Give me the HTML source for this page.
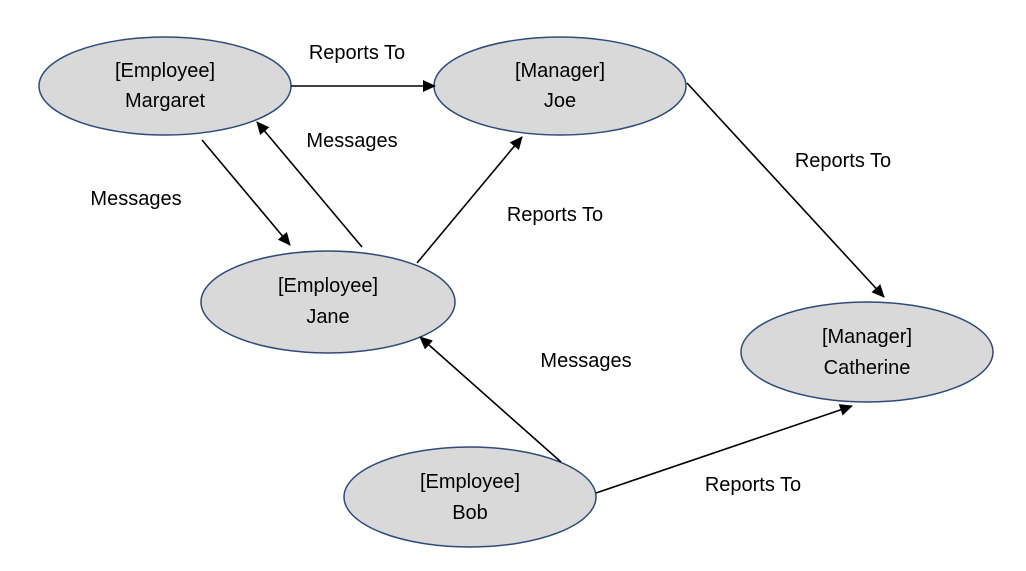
<!DOCTYPE html>
<html><head><style>
body{margin:0;background:#fff;}
svg text{font-family:"Liberation Sans",sans-serif;font-size:20px;fill:#000;}
</style></head><body>
<svg width="1026" height="566" viewBox="0 0 1026 566">
<defs><marker id="a" markerWidth="13" markerHeight="12" refX="12" refY="6" orient="auto" markerUnits="userSpaceOnUse"><path d="M0,0 L13,6 L0,12 z" fill="#000"/></marker></defs>
<g fill="#d9d9d9" stroke="#2f4a7a" stroke-width="1.5">
<ellipse cx="165" cy="86" rx="126" ry="49"/>
<ellipse cx="560" cy="86" rx="126" ry="49"/>
<ellipse cx="328" cy="302" rx="127" ry="51"/>
<ellipse cx="867" cy="352" rx="126" ry="50"/>
<ellipse cx="470" cy="497" rx="126" ry="50"/>
</g>
<g stroke="#000" stroke-width="1.6" marker-end="url(#a)">
<line x1="291" y1="86" x2="435" y2="86"/>
<line x1="202" y1="140" x2="290" y2="245"/>
<line x1="362" y1="247" x2="257" y2="122"/>
<line x1="417" y1="263" x2="522" y2="137"/>
<line x1="687" y1="83" x2="884" y2="297"/>
<line x1="561" y1="462" x2="420" y2="337"/>
<line x1="596" y1="493" x2="852" y2="406"/>
</g>
<g text-anchor="middle">
<text x="165" y="77">[Employee]</text><text x="165" y="107">Margaret</text>
<text x="560" y="77">[Manager]</text><text x="560" y="107">Joe</text>
<text x="328" y="292">[Employee]</text><text x="328" y="323">Jane</text>
<text x="867" y="343">[Manager]</text><text x="867" y="374">Catherine</text>
<text x="470" y="488">[Employee]</text><text x="470" y="519">Bob</text>
<text x="357" y="59">Reports To</text>
<text x="352" y="147">Messages</text>
<text x="136" y="205">Messages</text>
<text x="555" y="221">Reports To</text>
<text x="843" y="167">Reports To</text>
<text x="586" y="367">Messages</text>
<text x="753" y="491">Reports To</text>
</g>
</svg>
</body></html>
